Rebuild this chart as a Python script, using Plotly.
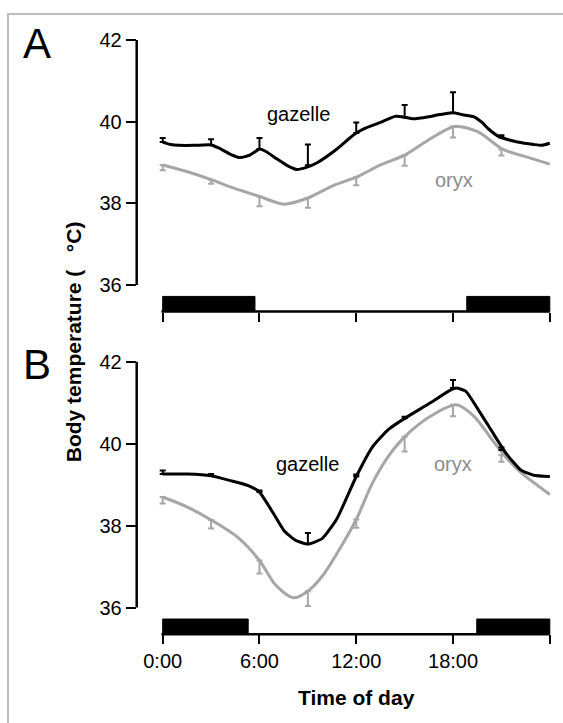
import plotly.graph_objects as go

# ---------------- data ----------------
# Panel A
gaz_A_t = [0, 0.5, 1, 2, 2.5, 3, 3.5, 4.2, 4.8, 5.4, 5.8, 6.0, 6.4, 7.07, 7.7, 8.3, 8.9, 9.6, 10.8, 11.6, 12.0,
           12.5, 13.5, 14.4, 15.0, 15.5, 16.5, 17.1, 18.0, 18.6, 19.3, 19.8, 20.2, 20.9, 21.5, 22.0, 23.0, 23.5, 24.0]
gaz_A_v = [39.50, 39.44, 39.42, 39.42, 39.43, 39.43, 39.35, 39.20, 39.12, 39.18, 39.28, 39.33, 39.27, 39.09, 38.93, 38.83, 38.88, 39.00, 39.33, 39.60, 39.72,
           39.83, 39.98, 40.13, 40.11, 40.07, 40.12, 40.17, 40.22, 40.17, 40.12, 39.98, 39.82, 39.62, 39.55, 39.50, 39.44, 39.42, 39.47]
ory_A_t = [0, 1.5, 3.0, 4.5, 6.0, 7.5, 9.0, 10.6, 12.0, 13.5, 15.0, 16.6, 18.1, 19.5, 21.1, 22.6, 24.0]
ory_A_v = [38.94, 38.78, 38.58, 38.36, 38.17, 37.98, 38.13, 38.44, 38.64, 38.94, 39.18, 39.58, 39.88, 39.76, 39.32, 39.13, 38.96]

# Panel B
gaz_B_t = [0, 1.5, 3.0, 4.2, 5.3, 6.0, 6.8, 7.5, 8.2, 9.0, 9.9, 10.8, 12.0, 13.0, 14.0, 15.0, 16.6, 17.7, 18.2, 18.8,
           19.5, 20.4, 21.3, 22.2, 23.0, 24.0]
gaz_B_v = [39.26, 39.26, 39.22, 39.10, 38.98, 38.82, 38.34, 37.89, 37.65, 37.55, 37.69, 38.17, 39.20, 39.92, 40.35, 40.62, 41.00, 41.28, 41.36, 41.28,
           40.87, 40.31, 39.76, 39.36, 39.23, 39.20]
ory_B_t = [0, 1.5, 3.0, 4.6, 6.0, 7.0, 8.1, 9.0, 9.9, 11.0, 12.0, 13.0, 14.0, 15.0, 16.6, 18.2, 19.3, 20.4, 21.3, 22.2, 24.0]
ory_B_v = [38.70, 38.46, 38.14, 37.73, 37.15, 36.55, 36.24, 36.40, 36.77, 37.45, 38.15, 39.04, 39.70, 40.17, 40.67, 40.95, 40.67, 40.11, 39.66, 39.30, 38.76]

# error bars (SE) at 3-hour intervals; gazelle upward, oryx downward
err_t = [0, 3, 6, 9, 12, 15, 18, 21]
gaz_A_em = [39.50, 39.43, 39.33, 38.93, 39.72, 40.11, 40.22, 39.62]
gaz_A_se = [0.10, 0.14, 0.27, 0.51, 0.26, 0.30, 0.50, 0.05]
ory_A_em = [38.94, 38.58, 38.17, 38.13, 38.64, 39.18, 39.88, 39.32]
ory_A_se = [0.13, 0.10, 0.24, 0.24, 0.20, 0.26, 0.27, 0.15]
gaz_B_em = [39.26, 39.22, 38.82, 37.55, 39.20, 40.62, 41.36, 39.85]
gaz_B_se = [0.09, 0.04, 0.04, 0.27, 0.05, 0.04, 0.20, 0.06]
ory_B_em = [38.70, 38.14, 37.15, 36.40, 38.15, 40.17, 40.95, 39.72]
ory_B_se = [0.16, 0.21, 0.32, 0.36, 0.20, 0.36, 0.28, 0.16]

# dark periods (black bars) per panel, hours
dark_A = [(0, 5.72), (18.85, 24)]
dark_B = [(0, 5.3), (19.47, 24)]

x_ticks = [0, 6, 12, 18, 24]
x_ticktext = ["0:00", "6:00", "12:00", "18:00", ""]
y_ticks = [36, 38, 40, 42]

# ---------------- style ----------------
FONT = "Liberation Sans, Arial, sans-serif"
BLACK = "#000000"
GREY = "#a6a6a6"
GREY_TXT = "#8c8c8c"
W, H = 563, 723

X_RANGE = [-1.612, 24.1]
Y_RANGE = [35.35, 42.1]

fig = go.Figure()

panels = [
    dict(xa="x", ya="y", gt=gaz_A_t, gv=gaz_A_v, ot=ory_A_t, ov=ory_A_v,
         gem=gaz_A_em, gse=gaz_A_se, oem=ory_A_em, ose=ory_A_se, dark=dark_A,
         lab_g=(8.39, 40.18), lab_o=(18.06, 38.56), letter="A", lpos=(36.5, 37)),
    dict(xa="x2", ya="y2", gt=gaz_B_t, gv=gaz_B_v, ot=ory_B_t, ov=ory_B_v,
         gem=gaz_B_em, gse=gaz_B_se, oem=ory_B_em, ose=ory_B_se, dark=dark_B,
         lab_g=(8.95, 39.50), lab_o=(18.0, 39.50), letter="B", lpos=(36.5, 361)),
]

for p in panels:
    xa, ya = p["xa"], p["ya"]
    # oryx line
    fig.add_trace(go.Scatter(x=p["ot"], y=p["ov"], mode="lines", xaxis=xa, yaxis=ya,
                             line=dict(color=GREY, width=3, shape="spline", smoothing=0.8),
                             showlegend=False, hoverinfo="skip"))
    fig.add_trace(go.Scatter(x=err_t, y=p["oem"], mode="markers", xaxis=xa, yaxis=ya,
                             marker=dict(size=0.1, color=GREY),
                             error_y=dict(type="data", symmetric=False, array=[0] * len(err_t),
                                          arrayminus=p["ose"], color=GREY, thickness=2, width=3),
                             showlegend=False, hoverinfo="skip"))
    # gazelle line
    fig.add_trace(go.Scatter(x=p["gt"], y=p["gv"], mode="lines", xaxis=xa, yaxis=ya,
                             line=dict(color=BLACK, width=3, shape="spline", smoothing=0.5),
                             showlegend=False, hoverinfo="skip"))
    fig.add_trace(go.Scatter(x=err_t, y=p["gem"], mode="markers", xaxis=xa, yaxis=ya,
                             marker=dict(size=0.1, color=BLACK),
                             error_y=dict(type="data", symmetric=False, array=p["gse"],
                                          arrayminus=[0] * len(err_t), color=BLACK, thickness=2, width=3),
                             showlegend=False, hoverinfo="skip"))
    # dark-period bars
    for (a, b) in p["dark"]:
        fig.add_shape(type="rect", xref=xa, yref=ya, x0=a, x1=b, y0=Y_RANGE[0], y1=Y_RANGE[0] + 0.37,
                      fillcolor=BLACK, line=dict(color=BLACK, width=1), layer="above")
    # detached axis lines
    fig.add_shape(type="line", xref=xa + " domain", yref=ya, x0=0, x1=0, y0=36, y1=42,
                  line=dict(color=BLACK, width=2.5))
    fig.add_shape(type="line", xref=xa, yref=ya + " domain", x0=-0.08, x1=24, y0=0, y1=0,
                  line=dict(color=BLACK, width=2.5))
    # series labels
    fig.add_annotation(x=p["lab_g"][0], y=p["lab_g"][1], xref=xa, yref=ya, text="gazelle",
                       showarrow=False, font=dict(family=FONT, size=20, color=BLACK))
    fig.add_annotation(x=p["lab_o"][0], y=p["lab_o"][1], xref=xa, yref=ya, text="oryx",
                       showarrow=False, font=dict(family=FONT, size=20, color=GREY_TXT))
    # panel letter
    fig.add_annotation(x=p["lpos"][0] / W, y=1 - p["lpos"][1] / H, xref="paper", yref="paper",
                       text=p["letter"], showarrow=False, xanchor="center", yanchor="middle",
                       font=dict(family=FONT, size=42, color=BLACK))

# axis titles
fig.add_annotation(x=73 / W, y=1 - 338.5 / H, xref="paper", yref="paper",
                   text="<b>Body temperature (&nbsp;&nbsp;&nbsp;°C)</b>",
                   textangle=-90, showarrow=False, xanchor="center", yanchor="middle",
                   font=dict(family=FONT, size=21, color=BLACK))
fig.add_annotation(x=356.5 / W, y=1 - 697 / H, xref="paper", yref="paper", text="<b>Time of day</b>",
                   showarrow=False, xanchor="center", yanchor="middle",
                   font=dict(family=FONT, size=21, color=BLACK))

# outer grey frame
fig.add_shape(type="rect", xref="paper", yref="paper", x0=8 / W, y0=-0.05, x1=1.05, y1=1 - 7 / H,
              line=dict(color="#bdbdbd", width=2), fillcolor="rgba(0,0,0,0)", layer="below")

xdom = [136.7 / W, (136.7 + (X_RANGE[1] - X_RANGE[0]) * 16.13) / W]
common_x = dict(range=X_RANGE, showgrid=False, zeroline=False, showline=False,
                ticks="outside", ticklen=9, tickwidth=2, tickcolor=BLACK,
                tickvals=x_ticks, domain=xdom,
                tickfont=dict(family=FONT, size=20, color=BLACK))
common_y = dict(range=Y_RANGE, showgrid=False, zeroline=False, showline=False,
                ticks="outside", ticklen=10, tickwidth=2, tickcolor=BLACK,
                tickvals=y_ticks, ticktext=[str(v) for v in y_ticks],
                tickfont=dict(family=FONT, size=20, color=BLACK))

fig.update_layout(
    width=W, height=H,
    margin=dict(l=0, r=0, t=0, b=0),
    paper_bgcolor="white", plot_bgcolor="white",
    showlegend=False,
    xaxis=dict(common_x, anchor="y", ticktext=[""] * 5),
    yaxis=dict(common_y, anchor="x", domain=[1 - 307.5 / H, 1 - 29.2 / H]),
    xaxis2=dict(common_x, anchor="y2", ticktext=x_ticktext),
    yaxis2=dict(common_y, anchor="x2", domain=[1 - 633.3 / H, 1 - 354.2 / H]),
)

fig.write_html("out.html",
               config={"displayModeBar": False, "staticPlot": True},
               post_script="document.body.style.margin='0px';document.body.style.padding='0px';document.body.style.overflow='hidden';")
